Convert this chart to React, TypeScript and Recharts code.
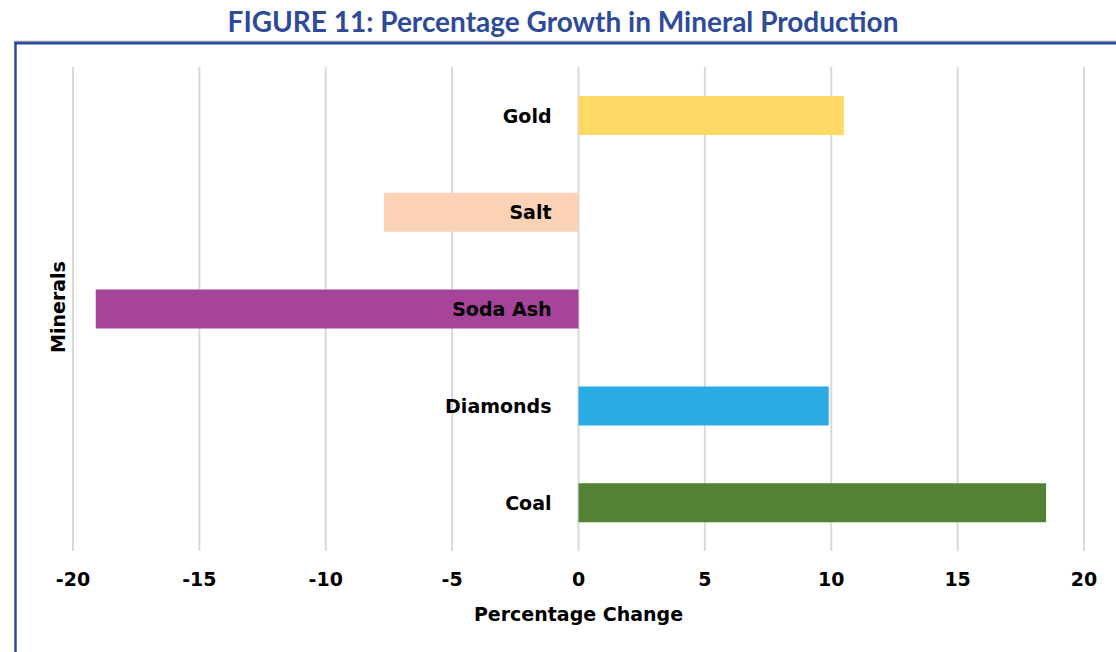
import { Bar, BarChart, CartesianGrid, Cell, LabelList, XAxis, YAxis } from "recharts";

const minerals = ["Gold", "Salt", "Soda Ash", "Diamonds", "Coal"];
const growth = [10.5, -7.7, -19.1, 9.9, 18.5];
const xTicks = [-20, -15, -10, -5, 0, 5, 10, 15, 20];
const barColors = ["#FFD966", "#FBD3B4", "#A5449A", "#2BABE3", "#548235"];

const data = minerals.map((name, i) => ({ name, value: growth[i] }));

const FONT = "'DejaVu Sans', sans-serif";
const BLUE = "#2E4A9A";

// category names sit just left of the zero line, like Excel's "low" label position
function MineralLabel(props: any) {
  const { x, y, width, height, value } = props;
  const v = growth[minerals.indexOf(value)];
  const left = Math.min(x, x + width);
  const right = Math.max(x, x + width);
  const zero = v < 0 ? right : left;
  return (
    <text
      x={zero - 27}
      y={y + height / 2}
      textAnchor="end"
      dominantBaseline="central"
      fontFamily={FONT}
      fontWeight="bold"
      fontSize={19}
      fill="#000"
    >
      {value}
    </text>
  );
}

export default function App() {
  return (
    <div style={{ position: "absolute", left: 0, top: 0, width: 1116, height: 652, background: "#fff" }}>
      <BarChart
        width={1116}
        height={652}
        layout="vertical"
        data={data}
        margin={{ top: 67, right: 32, bottom: 0, left: 73 }}
        barSize={39}
      >
        <CartesianGrid horizontal={false} stroke="#D9D9D9" strokeWidth={2} />
        <XAxis
          type="number"
          domain={[-20, 20]}
          ticks={xTicks}
          axisLine={false}
          tickLine={false}
          tickMargin={16}
          height={101}
          tick={{ fill: "#000", fontSize: 19, fontWeight: "bold", fontFamily: FONT }}
          label={{
            value: "Percentage Change",
            position: "insideBottom",
            offset: 31,
            fill: "#000",
            fontSize: 19,
            fontWeight: "bold",
            fontFamily: FONT,
          }}
        />
        <YAxis type="category" dataKey="name" hide />
        <Bar dataKey="value" isAnimationActive={false}>
          {data.map((d, i) => (
            <Cell key={d.name} fill={barColors[i]} />
          ))}
          <LabelList dataKey="name" content={MineralLabel} />
        </Bar>
      </BarChart>

      <svg
        width={1116}
        height={652}
        style={{ position: "absolute", left: 0, top: 0, pointerEvents: "none" }}
      >
        <text
          x={563}
          y={32}
          textAnchor="middle"
          fontFamily="Lato, sans-serif"
          fontWeight="bold"
          fontSize={28}
          fill={BLUE}
        >
          FIGURE 11: Percentage Growth in Mineral Production
        </text>
        <line x1={15} y1={41} x2={1116} y2={41} stroke="#C8C8C8" strokeWidth={1} />
        <line x1={14} y1={43} x2={1116} y2={43} stroke={BLUE} strokeWidth={3} />
        <line x1={15.5} y1={43} x2={15.5} y2={652} stroke={BLUE} strokeWidth={2.5} />
        <text
          x={58}
          y={307}
          transform="rotate(-90 58 307)"
          textAnchor="middle"
          dominantBaseline="central"
          fontFamily={FONT}
          fontWeight="bold"
          fontSize={19}
          fill="#000"
        >
          Minerals
        </text>
      </svg>
    </div>
  );
}
